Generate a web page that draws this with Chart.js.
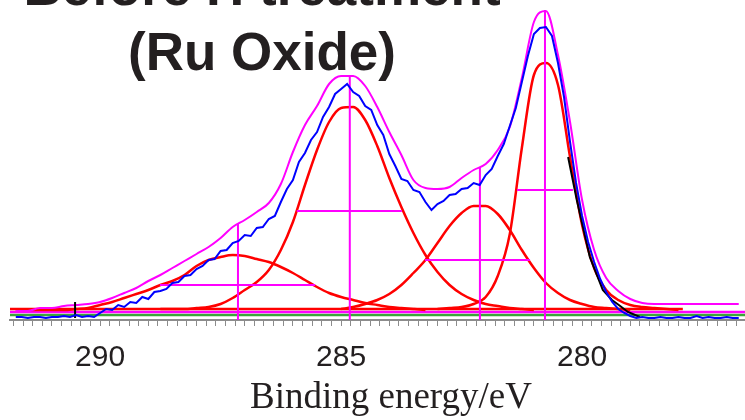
<!DOCTYPE html>
<html>
<head>
<meta charset="utf-8">
<script src="https://cdn.jsdelivr.net/npm/chart.js@4.4.1/dist/chart.umd.min.js"></script>
<style>
  body { margin: 0; background: #fff; }
  #wrap { position: relative; width: 745px; height: 420px; overflow: hidden; }
  #title { position: absolute; left: 0; top: -46px; width: 524px; text-align: center; white-space: nowrap;
           font: bold 53px/65px "Liberation Sans", Arial, sans-serif; color: #231f20; }
  #xtitle { position: absolute; left: 191px; top: 376px; width: 400px; text-align: center; white-space: nowrap;
            font: 37px/40px "Liberation Serif", "Times New Roman", serif; color: #231f20; }
</style>
</head>
<body>
<div id="wrap">
  <canvas id="xps" width="745" height="420"></canvas>
  <div id="title">Before H treatment<br>(Ru Oxide)</div>
  <div id="xtitle">Binding energy/eV</div>
</div>
<script>
// energy grids (eV)
const grid = (start, step, n) => Array.from({ length: n }, (_, i) => +(start + step * i).toFixed(3));
const fitEnergy = grid(291.75, -0.25, 61);
const dataEnergy = grid(291.75, -0.125, 121);

// measured spectrum (blue)
const measured = [3,3,2,3,3,2,3,3,4,3,5,3,4,3,
  7,11,10,15,13,18,17,23,21,28,
  29,31,37,38,44,45,51,54,60,61,
  69,70,77,79,85,84,92,93,101,104,
  118,131,140,158,167,180,188,203,213,226,
  231,236,228,224,214,210,195,185,166,154,
  141,139,130,128,118,110,116,119,125,126,
  131,132,137,135,145,151,164,176,194,212,
  238,264,286,292,293,284,257,223,178,137,
  104,78,58,41,28,18,11,7,4,2,
  3,2,2,3,2,2,3,2,2,4,2,3,2,2,3,2,2];

// raw data visible at the low-energy flank (black)
const rawEnergy = [280.29, 280.11, 279.84, 279.57, 279.38, 279.21, 279.05, 278.80];
const rawCounts = [163, 120, 63, 30, 20, 14, 8, 3];

// fit envelope (magenta) on fitEnergy
const envelope = [9,9,12,12,14,15,16,18,22,27,32,39,45,52,59,66,73,82,93,100,
  108,117,136,168,195,214,236,244,244,234,213,188,165,140,132,131,133,142,150,156,
  170,193,242,298,309,265,198,120,70,42,29,21,17,16,16,16,16,16,16,16,16];

// fitted components (red), each starting at an index of fitEnergy
const peakA = [10,10,10,10,10,11,12,15,18,22,26,30,35,39,45,54,60,63,65,64,61,58,53,47,40,33,27,23,20,17,15,13,12,11,10];
const peakB = [11,11,11,12,13,16,22,30,38,50,70,98,135,170,198,212,213,200,174,142,113,87,65,48,35,26,20,16,14,12,11,10];
const peakC = [11,13,16,20,26,35,47,60,77,94,107,114,114,106,90,70,52,37,27,20,16,13,12,11,10];
const peakD = [11,12,13,16,23,44,86,172,245,257,235,163,95,52,30,20,15,13,12,11,10];
const peakStart = [0, 12, 27, 35];

// peak markers
const peakCentre = [287.14, 284.82, 282.12, 280.77];
const peakTop = [97, 245, 153, 310];
const halfLevel = [35, 109, 60, 130];
const halfLeft = [288.76, 285.92, 283.26, 281.35];
const halfRight = [285.54, 283.74, 281.08, 280.19];

// baselines
const redBackground = 11, magentaBase = 8, greenBase = 5;

const majorTicks = [290, 285, 280];
const minorTicks = grid(291.8, -0.2, 76);

const pts = (xs, ys) => ys.map((y, i) => ({ x: xs[i], y }));
const ds = (data, color, width, extra) => Object.assign({
  data, borderColor: color, borderWidth: width, pointRadius: 0, fill: false, tension: 0
}, extra || {});

const markers = [];
peakCentre.forEach((c, i) => {
  markers.push({ x: c, y: 0 }, { x: c, y: peakTop[i] }, { x: c, y: null });
  markers.push({ x: halfLeft[i], y: halfLevel[i] }, { x: halfRight[i], y: halfLevel[i] }, { x: halfRight[i], y: null });
});

const smooth = { cubicInterpolationMode: 'monotone' };
const peaks = [peakA, peakB, peakC, peakD].map((p, k) =>
  ds(pts(fitEnergy.slice(peakStart[k]), p), '#ff0000', 2.5, smooth));

new Chart(document.getElementById('xps'), {
  type: 'line',
  data: {
    datasets: [
      ds(pts(dataEnergy, measured), '#0000ff', 2),
      ds(pts(rawEnergy, rawCounts), '#000000', 2),
      ds([{ x: 290.52, y: 2 }, { x: 290.52, y: 18 }], '#000000', 2),
      ds(pts(fitEnergy, envelope), '#ff00ff', 2, smooth),
      ds(markers, '#ff00ff', 2, { spanGaps: false }),
      ...peaks,
      ds([{ x: 291.87, y: redBackground }, { x: 277.91, y: redBackground }], '#ff0000', 2.5),
      ds([{ x: 291.87, y: magentaBase }, { x: 276.62, y: magentaBase }], '#ff00ff', 2.5),
      ds([{ x: 291.87, y: greenBase }, { x: 276.62, y: greenBase }], '#3aa63a', 2.5)
    ]
  },
  options: {
    responsive: false,
    animation: false,
    layout: { autoPadding: false, padding: { left: 10, right: 0, top: 0, bottom: 30 } },
    plugins: { legend: { display: false }, tooltip: { enabled: false } },
    scales: {
      x: {
        type: 'linear',
        reverse: true,
        min: 276.62,
        max: 291.87,
        bounds: 'data',
        border: { display: true, color: '#8c8c8c', width: 2 },
        grid: { display: true, drawOnChartArea: false, tickLength: 6, color: '#8c8c8c', tickColor: '#8c8c8c' },
        ticks: {
          autoSkip: false,
          maxRotation: 0,
          padding: 14,
          color: '#231f20',
          font: { family: '"Liberation Sans", Arial, sans-serif', size: 30 },
          callback: (v) => {
            const m = majorTicks.find(t => Math.abs(t - v) < 0.01);
            return m === undefined ? '' : String(m);
          }
        },
        afterBuildTicks: (s) => { s.ticks = minorTicks.map(v => ({ value: v })); },
        afterFit: (s) => { s.paddingLeft = 0; s.paddingRight = 0; }
      },
      y: { display: false, min: 0, max: 320 }
    }
  }
});
</script>
</body>
</html>
